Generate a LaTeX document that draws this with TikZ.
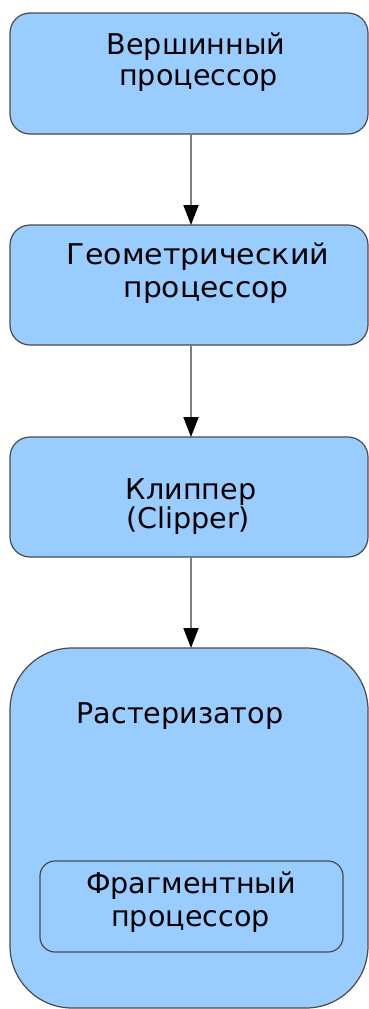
\documentclass[tikz,border=0pt]{standalone}
\usepackage{fontspec}
\setmainfont{DejaVu Sans}
\usetikzlibrary{arrows.meta}
\definecolor{boxfill}{HTML}{99CCFF}
\definecolor{boxline}{HTML}{4A4A4A}
\definecolor{arrowline}{HTML}{7F7F7F}
\begin{document}
\begin{tikzpicture}[x=1pt,y=-1pt,
  stagebox/.style={draw=boxline,fill=boxfill,line width=1.2pt,rounded corners=20pt},
  bigbox/.style={draw=boxline,fill=boxfill,line width=1.2pt,rounded corners=62pt},
  innerbox/.style={draw=boxline,fill=boxfill,line width=1.2pt,rounded corners=15pt},
  lbl/.style={font=\fontsize{28.6}{34}\selectfont,anchor=base,inner sep=0pt},
  flow/.style={draw=arrowline,line width=1.8pt,-{Triangle[length=20pt,width=15pt,fill=black,color=black]}}]
\useasboundingbox (0,0) rectangle (369,1009);
\fill[white] (0,0) rectangle (369,1009);
\draw[stagebox] (10,13) rectangle (368,134);
\coordinate (b1s) at (191,134);
\draw[stagebox] (10,225) rectangle (368,345);
\coordinate (b2n) at (191,225);
\coordinate (b2s) at (191,345);
\draw[stagebox] (10,437) rectangle (368,557);
\coordinate (b3n) at (191,437);
\coordinate (b3s) at (191,557);
\draw[bigbox] (10,648) rectangle (368,1008);
\coordinate (b4n) at (191,648);
\draw[innerbox] (40,861) rectangle (343,952);

\node[lbl] (t1a) at (196,54) {Вершинный};
\node[lbl] (t1b) at (198.5,85) {процессор};
\node[lbl] (t2a) at (198,264) {\scalebox{1.05}[1]{Геометрический}};
\node[lbl] (t2b) at (206,297) {\scalebox{1.04}[1]{процессор}};
\node[lbl] (t3a) at (191,499) {Клиппер};
\node[lbl] (t3b) at (188,528) {(Clipper)};
\node[lbl] (t4) at (180,723) {Растеризатор};
\node[lbl] (t5a) at (191,893) {Фрагментный};
\node[lbl] (t5b) at (190.5,926) {процессор};

\draw[flow] (b1s) -- (b2n);
\draw[flow] (b2s) -- (b3n);
\draw[flow] (b3s) -- (b4n);
\end{tikzpicture}
\end{document}
